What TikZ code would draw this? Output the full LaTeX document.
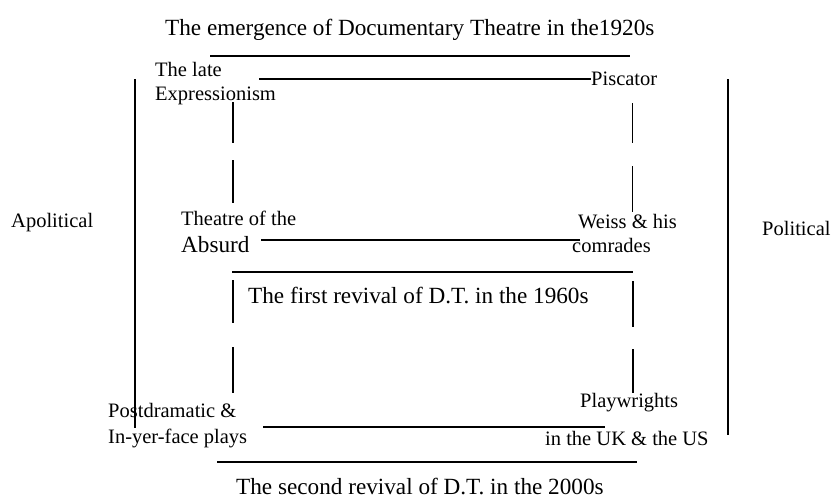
\documentclass[tikz,border=0pt]{standalone}
\usepackage{fontspec}
\setmainfont{Liberation Serif}
\usepackage{tikz}
\tikzset{
  lab/.style={
    inner sep=0pt,
    anchor=base west,
    font=\fontsize{20.5}{24}\selectfont
  },
  biglab/.style={
    lab,
    font=\fontsize{23.2}{27}\selectfont
  },
  rulebar/.style={line width=2.2pt},
  conn/.style={line width=1.3pt},
  gapconn/.style 2 args={
    conn,
    dash pattern=on #1 off #2 on 50pt off 5pt
  }
}

\begin{document}
\begin{tikzpicture}[x=1pt,y=-1pt]
\useasboundingbox (0,0) rectangle (832,499);
\node (title) at (165,35) [biglab] {The emergence of Documentary Theatre in the1920s};
\node (late) at (155,76) [lab] {The late};
\node (expr) at (155,100) [lab] {Expressionism};
\node (pisc) at (591,85) [lab] {Piscator};
\node (apol) at (11,227) [lab] {Apolitical};
\node (polit) at (762,235) [lab] {Political};
\node (theatre) at (181,225) [lab] {Theatre of the};
\node (absurd) at (181,252) [biglab] {Absurd};
\node (weiss) at (578,228) [lab] {Weiss \& his};
\node (comr) at (572,252) [lab] {comrades};
\node (first) at (248,303) [biglab] {The first revival of D.T. in the 1960s};
\node (post) at (108,417) [lab] {Postdramatic \&};
\node (inyer) at (108,443) [lab] {In-yer-face plays};
\node (playw) at (580,407) [lab] {Playwrights};
\node (ukus) at (545,445) [lab] {in the UK \& the US};
\node (second) at (236,494) [biglab] {The second revival of D.T. in the 2000s};

% free ends of the links
\coordinate (lateR) at (259,79);
\coordinate (absR) at (261,240);
\coordinate (weissL) at (580,240);
\coordinate (postR) at (263,427);
\coordinate (playL) at (605,427);
\coordinate (exprS) at (233,102);
\coordinate (theaN) at (233,203);
\coordinate (piscS) at (632.5,103);
\coordinate (weissN) at (632.5,212);
\coordinate (absS) at (233,280);
\coordinate (postN) at (233,393);
\coordinate (comrS) at (633,281);
\coordinate (playN) at (633,393);

% rules and brackets
\draw [rulebar] (210,56) -- (630,56);
\draw [rulebar] (232,272) -- (633,272);
\draw [rulebar] (217,462) -- (637,462);
\draw [rulebar] (135,79) -- (135,428);
\draw [rulebar] (728,79) -- (728,435);

\draw [conn] (lateR) -- (lateR -| pisc.west);
\draw [conn] (absR) -- (weissL);
\draw [conn] (postR) -- (playL);
\draw [gapconn={41pt}{17pt}] (exprS) -- (theaN);
\draw [gapconn={40pt}{23pt}] (piscS) -- (weissN);
\draw [gapconn={43pt}{24pt}] (absS) -- (postN);
\draw [gapconn={46pt}{22pt}] (comrS) -- (playN);
%\draw [red] (title.south west) rectangle (title.north east);
\end{tikzpicture}
\end{document}
